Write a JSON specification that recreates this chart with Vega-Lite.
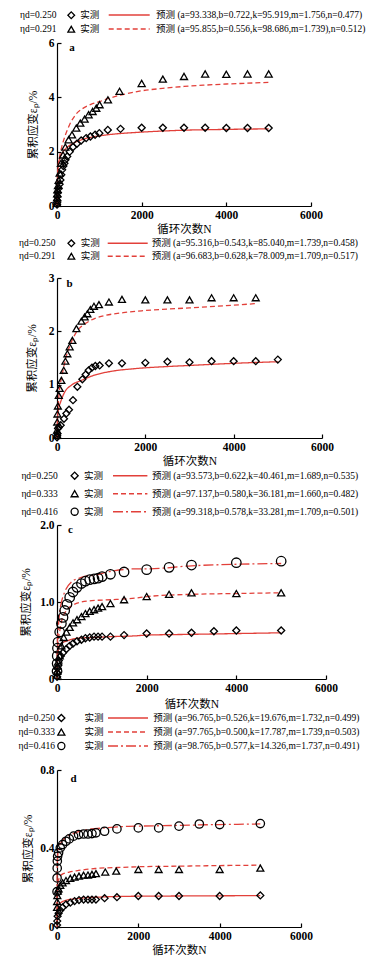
{
"$schema": "https://vega.github.io/schema/vega-lite/v6.json",
"padding": {"left": 18, "top": 10, "right": 2, "bottom": 2},
"spacing": 3,
"bounds": "full",
"resolve": {"scale": {"shape": "independent", "strokeDash": "independent"}, "legend": {"shape": "independent", "strokeDash": "independent"}},
"config": {
 "view": {"stroke": null},
 "font": "Liberation Serif",
 "axis": {"grid": false, "domainColor": "#000", "domainWidth": 1.2, "tickColor": "#000", "tickWidth": 1.2, "tickSize": -4, "labelPadding": 7, "labelFont": "Liberation Serif", "labelFontWeight": "bold", "labelFontSize": 11.5, "labelColor": "#000", "labelFlush": false, "labelOverlap": false, "titleFont": "Liberation Serif, Noto Sans CJK SC", "titleFontWeight": "normal", "titleFontSize": 11.5, "titleColor": "#000"},
 "axisX": {"titlePadding": 3, "format": "d"},
 "legend": {"labelFont": "Liberation Serif, Noto Sans CJK SC", "labelFontSize": 9.5, "labelColor": "#000", "labelLimit": 400, "titleFont": "Liberation Serif, Noto Sans CJK SC", "titleFontSize": 9.5, "titleFontWeight": "normal", "titleColor": "#000", "titleLimit": 400}
},
"datasets": {
 "aM": [
  {"eta":"0.250","N":1,"eps":0.05},{"eta":"0.250","N":3,"eps":0.12},{"eta":"0.250","N":5,"eps":0.2},{"eta":"0.250","N":10,"eps":0.35},{"eta":"0.250","N":20,"eps":0.5},{"eta":"0.250","N":40,"eps":0.65},{"eta":"0.250","N":60,"eps":0.8},{"eta":"0.250","N":80,"eps":0.96},{"eta":"0.250","N":100,"eps":1.15},{"eta":"0.250","N":120,"eps":1.33},{"eta":"0.250","N":150,"eps":1.47},{"eta":"0.250","N":175,"eps":1.57},{"eta":"0.250","N":200,"eps":1.7},{"eta":"0.250","N":240,"eps":1.82},{"eta":"0.250","N":300,"eps":2.0},{"eta":"0.250","N":380,"eps":2.17},{"eta":"0.250","N":470,"eps":2.29},{"eta":"0.250","N":570,"eps":2.41},{"eta":"0.250","N":690,"eps":2.5},{"eta":"0.250","N":790,"eps":2.56},{"eta":"0.250","N":900,"eps":2.62},{"eta":"0.250","N":1000,"eps":2.68},{"eta":"0.250","N":1200,"eps":2.8},{"eta":"0.250","N":1500,"eps":2.84},{"eta":"0.250","N":2000,"eps":2.88},{"eta":"0.250","N":2500,"eps":2.88},{"eta":"0.250","N":3000,"eps":2.88},{"eta":"0.250","N":3500,"eps":2.88},{"eta":"0.250","N":4000,"eps":2.87},{"eta":"0.250","N":4500,"eps":2.87},{"eta":"0.250","N":5000,"eps":2.87},
  {"eta":"0.291","N":1,"eps":0.1},{"eta":"0.291","N":3,"eps":0.3},{"eta":"0.291","N":5,"eps":0.45},{"eta":"0.291","N":10,"eps":0.6},{"eta":"0.291","N":24,"eps":0.75},{"eta":"0.291","N":40,"eps":0.95},{"eta":"0.291","N":63,"eps":1.21},{"eta":"0.291","N":94,"eps":1.57},{"eta":"0.291","N":142,"eps":1.88},{"eta":"0.291","N":197,"eps":2.17},{"eta":"0.291","N":275,"eps":2.44},{"eta":"0.291","N":354,"eps":2.62},{"eta":"0.291","N":456,"eps":2.87},{"eta":"0.291","N":550,"eps":3.05},{"eta":"0.291","N":652,"eps":3.2},{"eta":"0.291","N":747,"eps":3.36},{"eta":"0.291","N":841,"eps":3.48},{"eta":"0.291","N":928,"eps":3.6},{"eta":"0.291","N":1006,"eps":3.73},{"eta":"0.291","N":1203,"eps":3.91},{"eta":"0.291","N":1478,"eps":4.22},{"eta":"0.291","N":2000,"eps":4.51},{"eta":"0.291","N":2500,"eps":4.67},{"eta":"0.291","N":3000,"eps":4.77},{"eta":"0.291","N":3500,"eps":4.86},{"eta":"0.291","N":4000,"eps":4.85},{"eta":"0.291","N":4500,"eps":4.86},{"eta":"0.291","N":5000,"eps":4.86}
 ],
 "aP": [
  {"curve":"0.250","N":0,"eps":0},{"curve":"0.250","N":5,"eps":0.6},{"curve":"0.250","N":15,"eps":1.1},{"curve":"0.250","N":30,"eps":1.45},{"curve":"0.250","N":60,"eps":1.72},{"curve":"0.250","N":100,"eps":1.88},{"curve":"0.250","N":200,"eps":2.1},{"curve":"0.250","N":350,"eps":2.28},{"curve":"0.250","N":550,"eps":2.42},{"curve":"0.250","N":800,"eps":2.53},{"curve":"0.250","N":1000,"eps":2.58},{"curve":"0.250","N":1300,"eps":2.64},{"curve":"0.250","N":1600,"eps":2.68},{"curve":"0.250","N":2000,"eps":2.72},{"curve":"0.250","N":2500,"eps":2.76},{"curve":"0.250","N":3000,"eps":2.79},{"curve":"0.250","N":4000,"eps":2.82},{"curve":"0.250","N":5000,"eps":2.84},
  {"curve":"0.291","N":0,"eps":0},{"curve":"0.291","N":5,"eps":0.6},{"curve":"0.291","N":15,"eps":1.15},{"curve":"0.291","N":30,"eps":1.5},{"curve":"0.291","N":60,"eps":1.8},{"curve":"0.291","N":100,"eps":2.1},{"curve":"0.291","N":200,"eps":2.62},{"curve":"0.291","N":300,"eps":3.0},{"curve":"0.291","N":450,"eps":3.38},{"curve":"0.291","N":600,"eps":3.58},{"curve":"0.291","N":800,"eps":3.74},{"curve":"0.291","N":1000,"eps":3.84},{"curve":"0.291","N":1200,"eps":3.95},{"curve":"0.291","N":1500,"eps":4.08},{"curve":"0.291","N":2000,"eps":4.24},{"curve":"0.291","N":2500,"eps":4.33},{"curve":"0.291","N":3000,"eps":4.4},{"curve":"0.291","N":3500,"eps":4.45},{"curve":"0.291","N":4000,"eps":4.49},{"curve":"0.291","N":4500,"eps":4.52},{"curve":"0.291","N":5000,"eps":4.55}
 ],
 "bM": [
  {"eta":"0.250","N":1,"eps":0.01},{"eta":"0.250","N":5,"eps":0.04},{"eta":"0.250","N":10,"eps":0.08},{"eta":"0.250","N":23,"eps":0.18},{"eta":"0.250","N":40,"eps":0.2},{"eta":"0.250","N":84,"eps":0.24},{"eta":"0.250","N":158,"eps":0.36},{"eta":"0.250","N":212,"eps":0.46},{"eta":"0.250","N":272,"eps":0.53},{"eta":"0.250","N":362,"eps":0.71},{"eta":"0.250","N":461,"eps":0.96},{"eta":"0.250","N":574,"eps":1.1},{"eta":"0.250","N":649,"eps":1.19},{"eta":"0.250","N":717,"eps":1.27},{"eta":"0.250","N":792,"eps":1.32},{"eta":"0.250","N":868,"eps":1.35},{"eta":"0.250","N":966,"eps":1.36},{"eta":"0.250","N":1176,"eps":1.4},{"eta":"0.250","N":1471,"eps":1.4},{"eta":"0.250","N":2000,"eps":1.41},{"eta":"0.250","N":2500,"eps":1.43},{"eta":"0.250","N":3000,"eps":1.42},{"eta":"0.250","N":3500,"eps":1.44},{"eta":"0.250","N":4000,"eps":1.44},{"eta":"0.250","N":4500,"eps":1.44},{"eta":"0.250","N":5000,"eps":1.47},
  {"eta":"0.291","N":1,"eps":0.05},{"eta":"0.291","N":3,"eps":0.15},{"eta":"0.291","N":5,"eps":0.3},{"eta":"0.291","N":10,"eps":0.45},{"eta":"0.291","N":20,"eps":0.6},{"eta":"0.291","N":40,"eps":0.8},{"eta":"0.291","N":61,"eps":0.93},{"eta":"0.291","N":99,"eps":1.08},{"eta":"0.291","N":152,"eps":1.27},{"eta":"0.291","N":190,"eps":1.44},{"eta":"0.291","N":235,"eps":1.58},{"eta":"0.291","N":287,"eps":1.71},{"eta":"0.291","N":348,"eps":1.83},{"eta":"0.291","N":439,"eps":2.05},{"eta":"0.291","N":552,"eps":2.19},{"eta":"0.291","N":627,"eps":2.27},{"eta":"0.291","N":688,"eps":2.33},{"eta":"0.291","N":756,"eps":2.41},{"eta":"0.291","N":837,"eps":2.47},{"eta":"0.291","N":950,"eps":2.5},{"eta":"0.291","N":1176,"eps":2.55},{"eta":"0.291","N":1471,"eps":2.6},{"eta":"0.291","N":2000,"eps":2.59},{"eta":"0.291","N":2500,"eps":2.59},{"eta":"0.291","N":3000,"eps":2.59},{"eta":"0.291","N":3500,"eps":2.63},{"eta":"0.291","N":4000,"eps":2.63},{"eta":"0.291","N":4500,"eps":2.63}
 ],
 "bP": [
  {"curve":"0.250","N":0,"eps":0},{"curve":"0.250","N":5,"eps":0.25},{"curve":"0.250","N":10,"eps":0.36},{"curve":"0.250","N":30,"eps":0.52},{"curve":"0.250","N":84,"eps":0.68},{"curve":"0.250","N":174,"eps":0.86},{"curve":"0.250","N":325,"eps":0.99},{"curve":"0.250","N":552,"eps":1.08},{"curve":"0.250","N":853,"eps":1.18},{"curve":"0.250","N":1230,"eps":1.25},{"curve":"0.250","N":1758,"eps":1.3},{"curve":"0.250","N":2500,"eps":1.34},{"curve":"0.250","N":3000,"eps":1.36},{"curve":"0.250","N":4000,"eps":1.4},{"curve":"0.250","N":5000,"eps":1.43},
  {"curve":"0.291","N":0,"eps":0},{"curve":"0.291","N":10,"eps":0.35},{"curve":"0.291","N":30,"eps":0.65},{"curve":"0.291","N":60,"eps":0.93},{"curve":"0.291","N":100,"eps":1.12},{"curve":"0.291","N":150,"eps":1.32},{"curve":"0.291","N":200,"eps":1.5},{"curve":"0.291","N":300,"eps":1.75},{"curve":"0.291","N":400,"eps":1.93},{"curve":"0.291","N":500,"eps":2.05},{"curve":"0.291","N":650,"eps":2.15},{"curve":"0.291","N":850,"eps":2.24},{"curve":"0.291","N":1000,"eps":2.28},{"curve":"0.291","N":1500,"eps":2.35},{"curve":"0.291","N":2000,"eps":2.39},{"curve":"0.291","N":3000,"eps":2.44},{"curve":"0.291","N":4000,"eps":2.49},{"curve":"0.291","N":4500,"eps":2.52}
 ],
 "cM": [
  {"eta":"0.250","N":1,"eps":0.03},{"eta":"0.250","N":5,"eps":0.08},{"eta":"0.250","N":10,"eps":0.14},{"eta":"0.250","N":40,"eps":0.24},{"eta":"0.250","N":85,"eps":0.3},{"eta":"0.250","N":134,"eps":0.34},{"eta":"0.250","N":210,"eps":0.39},{"eta":"0.250","N":283,"eps":0.43},{"eta":"0.250","N":357,"eps":0.46},{"eta":"0.250","N":446,"eps":0.49},{"eta":"0.250","N":545,"eps":0.51},{"eta":"0.250","N":634,"eps":0.53},{"eta":"0.250","N":730,"eps":0.54},{"eta":"0.250","N":826,"eps":0.55},{"eta":"0.250","N":916,"eps":0.55},{"eta":"0.250","N":1005,"eps":0.55},{"eta":"0.250","N":1192,"eps":0.55},{"eta":"0.250","N":1496,"eps":0.57},{"eta":"0.250","N":2000,"eps":0.59},{"eta":"0.250","N":2500,"eps":0.59},{"eta":"0.250","N":3000,"eps":0.6},{"eta":"0.250","N":3500,"eps":0.62},{"eta":"0.250","N":4000,"eps":0.63},{"eta":"0.250","N":5000,"eps":0.63},
  {"eta":"0.333","N":1,"eps":0.05},{"eta":"0.333","N":5,"eps":0.1},{"eta":"0.333","N":10,"eps":0.17},{"eta":"0.333","N":22,"eps":0.22},{"eta":"0.333","N":60,"eps":0.3},{"eta":"0.333","N":98,"eps":0.43},{"eta":"0.333","N":150,"eps":0.54},{"eta":"0.333","N":210,"eps":0.61},{"eta":"0.333","N":283,"eps":0.67},{"eta":"0.333","N":357,"eps":0.73},{"eta":"0.333","N":446,"eps":0.77},{"eta":"0.333","N":545,"eps":0.81},{"eta":"0.333","N":634,"eps":0.85},{"eta":"0.333","N":730,"eps":0.88},{"eta":"0.333","N":826,"eps":0.9},{"eta":"0.333","N":916,"eps":0.92},{"eta":"0.333","N":1005,"eps":0.94},{"eta":"0.333","N":1192,"eps":0.98},{"eta":"0.333","N":1496,"eps":1.03},{"eta":"0.333","N":2000,"eps":1.07},{"eta":"0.333","N":2500,"eps":1.1},{"eta":"0.333","N":3000,"eps":1.12},{"eta":"0.333","N":4000,"eps":1.11},{"eta":"0.333","N":5000,"eps":1.12},
  {"eta":"0.416","N":1,"eps":0.1},{"eta":"0.416","N":3,"eps":0.2},{"eta":"0.416","N":5,"eps":0.3},{"eta":"0.416","N":10,"eps":0.4},{"eta":"0.416","N":22,"eps":0.48},{"eta":"0.416","N":60,"eps":0.61},{"eta":"0.416","N":98,"eps":0.72},{"eta":"0.416","N":134,"eps":0.8},{"eta":"0.416","N":172,"eps":0.89},{"eta":"0.416","N":223,"eps":0.97},{"eta":"0.416","N":283,"eps":1.06},{"eta":"0.416","N":357,"eps":1.13},{"eta":"0.416","N":446,"eps":1.19},{"eta":"0.416","N":545,"eps":1.24},{"eta":"0.416","N":634,"eps":1.27},{"eta":"0.416","N":730,"eps":1.29},{"eta":"0.416","N":826,"eps":1.3},{"eta":"0.416","N":916,"eps":1.31},{"eta":"0.416","N":1005,"eps":1.33},{"eta":"0.416","N":1192,"eps":1.36},{"eta":"0.416","N":1496,"eps":1.39},{"eta":"0.416","N":2000,"eps":1.42},{"eta":"0.416","N":2500,"eps":1.45},{"eta":"0.416","N":3000,"eps":1.48},{"eta":"0.416","N":4000,"eps":1.51},{"eta":"0.416","N":5000,"eps":1.53}
 ],
 "cP": [
  {"curve":"0.250","N":0,"eps":0},{"curve":"0.250","N":5,"eps":0.2},{"curve":"0.250","N":20,"eps":0.33},{"curve":"0.250","N":50,"eps":0.42},{"curve":"0.250","N":98,"eps":0.46},{"curve":"0.250","N":246,"eps":0.5},{"curve":"0.250","N":469,"eps":0.53},{"curve":"0.250","N":842,"eps":0.54},{"curve":"0.250","N":1214,"eps":0.55},{"curve":"0.250","N":1735,"eps":0.56},{"curve":"0.250","N":2000,"eps":0.57},{"curve":"0.250","N":3000,"eps":0.58},{"curve":"0.250","N":4000,"eps":0.59},{"curve":"0.250","N":5000,"eps":0.6},
  {"curve":"0.333","N":0,"eps":0},{"curve":"0.333","N":5,"eps":0.25},{"curve":"0.333","N":22,"eps":0.45},{"curve":"0.333","N":60,"eps":0.62},{"curve":"0.333","N":98,"eps":0.74},{"curve":"0.333","N":210,"eps":0.89},{"curve":"0.333","N":357,"eps":0.96},{"curve":"0.333","N":545,"eps":1.0},{"curve":"0.333","N":842,"eps":1.02},{"curve":"0.333","N":1214,"eps":1.03},{"curve":"0.333","N":1735,"eps":1.05},{"curve":"0.333","N":2000,"eps":1.07},{"curve":"0.333","N":3000,"eps":1.1},{"curve":"0.333","N":4000,"eps":1.11},{"curve":"0.333","N":5000,"eps":1.12},
  {"curve":"0.416","N":0,"eps":0},{"curve":"0.416","N":3,"eps":0.3},{"curve":"0.416","N":10,"eps":0.5},{"curve":"0.416","N":22,"eps":0.61},{"curve":"0.416","N":60,"eps":0.87},{"curve":"0.416","N":100,"eps":1.0},{"curve":"0.416","N":172,"eps":1.13},{"curve":"0.416","N":321,"eps":1.26},{"curve":"0.416","N":545,"eps":1.32},{"curve":"0.416","N":842,"eps":1.35},{"curve":"0.416","N":1214,"eps":1.4},{"curve":"0.416","N":1735,"eps":1.43},{"curve":"0.416","N":2000,"eps":1.43},{"curve":"0.416","N":3000,"eps":1.47},{"curve":"0.416","N":4000,"eps":1.49},{"curve":"0.416","N":5000,"eps":1.5}
 ],
 "dM": [
  {"eta":"0.250","N":1,"eps":0.01},{"eta":"0.250","N":5,"eps":0.03},{"eta":"0.250","N":15,"eps":0.055},{"eta":"0.250","N":40,"eps":0.07},{"eta":"0.250","N":81,"eps":0.085},{"eta":"0.250","N":138,"eps":0.1},{"eta":"0.250","N":221,"eps":0.115},{"eta":"0.250","N":327,"eps":0.124},{"eta":"0.250","N":432,"eps":0.132},{"eta":"0.250","N":541,"eps":0.137},{"eta":"0.250","N":654,"eps":0.14},{"eta":"0.250","N":762,"eps":0.14},{"eta":"0.250","N":860,"eps":0.14},{"eta":"0.250","N":958,"eps":0.14},{"eta":"0.250","N":1170,"eps":0.147},{"eta":"0.250","N":1474,"eps":0.152},{"eta":"0.250","N":2000,"eps":0.158},{"eta":"0.250","N":2500,"eps":0.158},{"eta":"0.250","N":3000,"eps":0.158},{"eta":"0.250","N":4000,"eps":0.158},{"eta":"0.250","N":5000,"eps":0.161},
  {"eta":"0.333","N":1,"eps":0.1},{"eta":"0.333","N":3,"eps":0.13},{"eta":"0.333","N":8,"eps":0.16},{"eta":"0.333","N":20,"eps":0.183},{"eta":"0.333","N":39,"eps":0.195},{"eta":"0.333","N":81,"eps":0.212},{"eta":"0.333","N":138,"eps":0.225},{"eta":"0.333","N":221,"eps":0.237},{"eta":"0.333","N":327,"eps":0.248},{"eta":"0.333","N":432,"eps":0.254},{"eta":"0.333","N":541,"eps":0.259},{"eta":"0.333","N":654,"eps":0.264},{"eta":"0.333","N":762,"eps":0.265},{"eta":"0.333","N":860,"eps":0.268},{"eta":"0.333","N":958,"eps":0.272},{"eta":"0.333","N":1187,"eps":0.28},{"eta":"0.333","N":1457,"eps":0.285},{"eta":"0.333","N":2000,"eps":0.293},{"eta":"0.333","N":2500,"eps":0.293},{"eta":"0.333","N":3000,"eps":0.293},{"eta":"0.333","N":4000,"eps":0.293},{"eta":"0.333","N":5000,"eps":0.3},
  {"eta":"0.416","N":1,"eps":0.18},{"eta":"0.416","N":2,"eps":0.25},{"eta":"0.416","N":5,"eps":0.3},{"eta":"0.416","N":8,"eps":0.336},{"eta":"0.416","N":15,"eps":0.36},{"eta":"0.416","N":39,"eps":0.378},{"eta":"0.416","N":81,"eps":0.403},{"eta":"0.416","N":138,"eps":0.42},{"eta":"0.416","N":221,"eps":0.437},{"eta":"0.416","N":302,"eps":0.449},{"eta":"0.416","N":408,"eps":0.463},{"eta":"0.416","N":531,"eps":0.471},{"eta":"0.416","N":654,"eps":0.474},{"eta":"0.416","N":762,"eps":0.474},{"eta":"0.416","N":860,"eps":0.476},{"eta":"0.416","N":958,"eps":0.48},{"eta":"0.416","N":1170,"eps":0.488},{"eta":"0.416","N":1474,"eps":0.5},{"eta":"0.416","N":2000,"eps":0.505},{"eta":"0.416","N":2500,"eps":0.505},{"eta":"0.416","N":3000,"eps":0.514},{"eta":"0.416","N":3500,"eps":0.525},{"eta":"0.416","N":4000,"eps":0.522},{"eta":"0.416","N":5000,"eps":0.527}
 ],
 "dP": [
  {"curve":"0.250","N":0,"eps":0},{"curve":"0.250","N":3,"eps":0.08},{"curve":"0.250","N":10,"eps":0.1},{"curve":"0.250","N":40,"eps":0.115},{"curve":"0.250","N":100,"eps":0.125},{"curve":"0.250","N":200,"eps":0.135},{"curve":"0.250","N":500,"eps":0.145},{"curve":"0.250","N":1000,"eps":0.152},{"curve":"0.250","N":2000,"eps":0.157},{"curve":"0.250","N":3000,"eps":0.158},{"curve":"0.250","N":5000,"eps":0.16},
  {"curve":"0.333","N":0,"eps":0.02},{"curve":"0.333","N":3,"eps":0.17},{"curve":"0.333","N":10,"eps":0.21},{"curve":"0.333","N":39,"eps":0.24},{"curve":"0.333","N":122,"eps":0.268},{"curve":"0.333","N":300,"eps":0.28},{"curve":"0.333","N":531,"eps":0.288},{"curve":"0.333","N":941,"eps":0.298},{"curve":"0.333","N":1760,"eps":0.305},{"curve":"0.333","N":2000,"eps":0.307},{"curve":"0.333","N":3000,"eps":0.31},{"curve":"0.333","N":4000,"eps":0.313},{"curve":"0.333","N":5000,"eps":0.315},
  {"curve":"0.416","N":0,"eps":0.05},{"curve":"0.416","N":3,"eps":0.28},{"curve":"0.416","N":10,"eps":0.34},{"curve":"0.416","N":39,"eps":0.4},{"curve":"0.416","N":100,"eps":0.43},{"curve":"0.416","N":204,"eps":0.454},{"curve":"0.416","N":450,"eps":0.48},{"curve":"0.416","N":777,"eps":0.497},{"curve":"0.416","N":1187,"eps":0.505},{"curve":"0.416","N":1760,"eps":0.513},{"curve":"0.416","N":2000,"eps":0.514},{"curve":"0.416","N":3000,"eps":0.518},{"curve":"0.416","N":4000,"eps":0.522},{"curve":"0.416","N":5000,"eps":0.525}
 ]
},
"vconcat": [
 {
  "width": 254, "height": 163,
  "layer": [
   {"data": {"name": "aP"},
    "mark": {"type": "line", "color": "#e2403a", "strokeWidth": 1.3, "interpolate": "monotone"},
    "encoding": {
     "x": {"field": "N", "type": "quantitative", "scale": {"domain": [0, 6000], "nice": false}, "axis": {"values": [0, 2000, 4000, 6000], "title": "循环次数N"}},
     "y": {"field": "eps", "type": "quantitative", "scale": {"domain": [0, 6], "nice": false}, "axis": {"values": [0, 1, 2, 3, 4, 5, 6], "title": "累积应变εₚ/%", "titlePadding": 10}},
     "strokeDash": {"field": "curve", "type": "nominal", "scale": {"range": [[1, 0], [5, 3]]},
      "legend": {"orient": "none", "legendX": 50.7, "legendY": -33, "direction": "vertical", "title": null, "symbolType": "stroke", "symbolSize": 1681, "symbolStrokeWidth": 1.5, "symbolStrokeColor": "#e2403a", "clipHeight": 10, "rowPadding": 4, "labelOffset": 5.3,
       "labelExpr": "datum.value == '0.250' ? '预测 (a=93.338,b=0.722,k=95.919,m=1.756,n=0.477)' : '预测 (a=95.855,b=0.556,k=98.686,m=1.739),n=0.512)'"}}
    }},
   {"data": {"name": "aM"},
    "mark": {"type": "point", "filled": false, "color": "#000", "strokeWidth": 1.3, "opacity": 1},
    "encoding": {
     "x": {"field": "N", "type": "quantitative"},
     "y": {"field": "eps", "type": "quantitative"},
     "size": {"value": 50},
     "shape": {"field": "eta", "type": "nominal", "scale": {"range": ["diamond", "triangle-up"]},
      "legend": {"orient": "none", "legendX": -37, "legendY": -32.75, "direction": "vertical", "title": ["ηd=0.250", "ηd=0.291"], "titleOrient": "left", "titleAnchor": "start", "titleBaseline": "top", "titleLineHeight": 14, "titlePadding": 9.5, "labelExpr": "'实测'", "symbolSize": 45, "symbolStrokeColor": "#000", "symbolStrokeWidth": 1.3, "symbolFillColor": "transparent", "clipHeight": 10, "rowPadding": 4, "labelOffset": 4.3}}
    }},
   {"data": {"values": [{"t": "a"}]},
    "mark": {"type": "text", "font": "Liberation Serif", "fontWeight": "bold", "fontSize": 11, "align": "center", "baseline": "middle"},
    "encoding": {"x": {"datum": 354, "type": "quantitative"}, "y": {"datum": 5.8, "type": "quantitative"}, "text": {"field": "t"}}}
  ]
 },
 {
  "width": 265, "height": 160,
  "layer": [
   {"data": {"name": "bP"},
    "mark": {"type": "line", "color": "#e2403a", "strokeWidth": 1.3, "interpolate": "monotone"},
    "encoding": {
     "x": {"field": "N", "type": "quantitative", "scale": {"domain": [0, 6000], "nice": false}, "axis": {"values": [0, 2000, 4000, 6000], "title": "循环次数N"}},
     "y": {"field": "eps", "type": "quantitative", "scale": {"domain": [0, 3], "nice": false}, "axis": {"values": [0, 1, 2, 3], "title": "累积应变εₚ/%", "titlePadding": 11}},
     "strokeDash": {"field": "curve", "type": "nominal", "scale": {"range": [[1, 0], [5, 3]]},
      "legend": {"orient": "none", "legendX": 49.7, "legendY": -39.7, "direction": "vertical", "title": null, "symbolType": "stroke", "symbolSize": 1600, "symbolStrokeWidth": 1.5, "symbolStrokeColor": "#e2403a", "clipHeight": 10, "rowPadding": 3, "labelOffset": 3,
       "labelExpr": "datum.value == '0.250' ? '预测 (a=95.316,b=0.543,k=85.040,m=1.739,n=0.458)' : '预测 (a=96.683,b=0.628,k=78.009,m=1.709,n=0.517)'"}}
    }},
   {"data": {"name": "bM"},
    "mark": {"type": "point", "filled": false, "color": "#000", "strokeWidth": 1.3, "opacity": 1},
    "encoding": {
     "x": {"field": "N", "type": "quantitative"},
     "y": {"field": "eps", "type": "quantitative"},
     "size": {"value": 48},
     "shape": {"field": "eta", "type": "nominal", "scale": {"range": ["diamond", "triangle-up"]},
      "legend": {"orient": "none", "legendX": -38, "legendY": -39.7, "direction": "vertical", "title": ["ηd=0.250", "ηd=0.291"], "titleOrient": "left", "titleAnchor": "start", "titleBaseline": "top", "titleLineHeight": 13, "titlePadding": 10.6, "labelExpr": "'实测'", "symbolSize": 45, "symbolStrokeColor": "#000", "symbolStrokeWidth": 1.3, "symbolFillColor": "transparent", "clipHeight": 10, "rowPadding": 3, "labelOffset": 4.6}}
    }},
   {"data": {"values": [{"t": "b"}]},
    "mark": {"type": "text", "font": "Liberation Serif", "fontWeight": "bold", "fontSize": 11, "align": "center", "baseline": "middle"},
    "encoding": {"x": {"datum": 287, "type": "quantitative"}, "y": {"datum": 2.88, "type": "quantitative"}, "text": {"field": "t"}}}
  ]
 },
 {
  "width": 269, "height": 154,
  "layer": [
   {"data": {"name": "cP"},
    "mark": {"type": "line", "color": "#e2403a", "strokeWidth": 1.3, "interpolate": "monotone"},
    "encoding": {
     "x": {"field": "N", "type": "quantitative", "scale": {"domain": [0, 6000], "nice": false}, "axis": {"values": [0, 2000, 4000, 6000], "title": "循环次数N", "titlePadding": 5}},
     "y": {"field": "eps", "type": "quantitative", "scale": {"domain": [0, 2], "nice": false}, "axis": {"values": [0, 0.5, 1, 1.5, 2], "labelExpr": "datum.value == 0 ? '0' : format(datum.value, '.1f')", "title": "累积应变εₚ/%", "titlePadding": 8}},
     "strokeDash": {"field": "curve", "type": "nominal", "scale": {"range": [[1, 0], [5, 3], [10, 3, 2, 3]]},
      "legend": {"orient": "none", "legendX": 55.2, "legendY": -54.3, "direction": "vertical", "title": null, "symbolType": "stroke", "symbolSize": 1183, "symbolStrokeWidth": 1.5, "symbolStrokeColor": "#e2403a", "clipHeight": 10, "rowPadding": 8, "labelOffset": 3.7,
       "labelExpr": "datum.value == '0.250' ? '预测 (a=93.573,b=0.622,k=40.461,m=1.689,n=0.535)' : datum.value == '0.333' ? '预测 (a=97.137,b=0.580,k=36.181,m=1.660,n=0.482)' : '预测 (a=99.318,b=0.578,k=33.281,m=1.709,n=0.501)'"}}
    }},
   {"data": {"name": "cM"},
    "transform": [{"filter": "datum.eta != '0.416'"}],
    "mark": {"type": "point", "filled": false, "color": "#000", "strokeWidth": 1.3, "opacity": 1},
    "encoding": {
     "x": {"field": "N", "type": "quantitative"},
     "y": {"field": "eps", "type": "quantitative"},
     "size": {"value": 50},
     "shape": {"field": "eta", "type": "nominal", "scale": {"range": ["diamond", "triangle-up", "circle"]},
      "legend": {"orient": "none", "legendX": -35.6, "legendY": -54.3, "direction": "vertical", "title": ["ηd=0.250", "ηd=0.333", "ηd=0.416"], "titleOrient": "left", "titleAnchor": "start", "titleBaseline": "top", "titleLineHeight": 18, "titlePadding": 11.5, "labelExpr": "'实测'", "symbolSize": 50, "symbolStrokeColor": "#000", "symbolStrokeWidth": 1.3, "symbolFillColor": "transparent", "clipHeight": 10, "rowPadding": 8, "labelOffset": 4.6}}
    }},
   {"data": {"name": "cM"},
    "transform": [{"filter": "datum.eta == '0.416'"}],
    "mark": {"type": "point", "filled": false, "color": "#000", "strokeWidth": 1.3, "opacity": 1},
    "encoding": {
     "x": {"field": "N", "type": "quantitative"},
     "y": {"field": "eps", "type": "quantitative"},
     "size": {"value": 90},
     "shape": {"field": "eta", "type": "nominal"}
    }},
   {"data": {"values": [{"t": "c"}]},
    "mark": {"type": "text", "font": "Liberation Serif", "fontWeight": "bold", "fontSize": 11, "align": "center", "baseline": "middle"},
    "encoding": {"x": {"datum": 299, "type": "quantitative"}, "y": {"datum": 1.93, "type": "quantitative"}, "text": {"field": "t"}}}
  ]
 },
 {
  "width": 244, "height": 157,
  "layer": [
   {"data": {"name": "dP"},
    "mark": {"type": "line", "color": "#e2403a", "strokeWidth": 1.3, "interpolate": "monotone"},
    "encoding": {
     "x": {"field": "N", "type": "quantitative", "scale": {"domain": [0, 6000], "nice": false}, "axis": {"values": [0, 2000, 4000, 6000], "title": "循环次数N"}},
     "y": {"field": "eps", "type": "quantitative", "scale": {"domain": [0, 0.8], "nice": false}, "axis": {"values": [0, 0.2, 0.4, 0.6, 0.8], "labelExpr": "datum.value == 0 ? '0' : format(datum.value, '.1f')", "title": "累积应变εₚ/%", "titlePadding": 6}},
     "strokeDash": {"field": "curve", "type": "nominal", "scale": {"range": [[1, 0], [5, 3], [10, 3, 2, 3]]},
      "legend": {"orient": "none", "legendX": 50, "legendY": -57, "direction": "vertical", "title": null, "symbolType": "stroke", "symbolSize": 1600, "symbolStrokeWidth": 1.5, "symbolStrokeColor": "#e2403a", "clipHeight": 10, "rowPadding": 4, "labelOffset": 4.3,
       "labelExpr": "datum.value == '0.250' ? '预测 (a=96.765,b=0.526,k=19.676,m=1.732,n=0.499)' : datum.value == '0.333' ? '预测 (a=97.765,b=0.500,k=17.787,m=1.739,n=0.503)' : '预测 (a=98.765,b=0.577,k=14.326,m=1.737,n=0.491)'"}}
    }},
   {"data": {"name": "dM"},
    "transform": [{"filter": "datum.eta != '0.416'"}],
    "mark": {"type": "point", "filled": false, "color": "#000", "strokeWidth": 1.3, "opacity": 1},
    "encoding": {
     "x": {"field": "N", "type": "quantitative"},
     "y": {"field": "eps", "type": "quantitative"},
     "size": {"value": 48},
     "shape": {"field": "eta", "type": "nominal", "scale": {"range": ["diamond", "triangle-up", "circle"]},
      "legend": {"orient": "none", "legendX": -38.4, "legendY": -57, "direction": "vertical", "title": ["ηd=0.250", "ηd=0.333", "ηd=0.416"], "titleOrient": "left", "titleAnchor": "start", "titleBaseline": "top", "titleLineHeight": 14, "titlePadding": 1, "labelExpr": "'实测'", "symbolSize": 50, "symbolStrokeColor": "#000", "symbolStrokeWidth": 1.3, "symbolFillColor": "transparent", "clipHeight": 10, "rowPadding": 4, "labelOffset": 18.5}}
    }},
   {"data": {"name": "dM"},
    "transform": [{"filter": "datum.eta == '0.416'"}],
    "mark": {"type": "point", "filled": false, "color": "#000", "strokeWidth": 1.3, "opacity": 1},
    "encoding": {
     "x": {"field": "N", "type": "quantitative"},
     "y": {"field": "eps", "type": "quantitative"},
     "size": {"value": 70},
     "shape": {"field": "eta", "type": "nominal"}
    }},
   {"data": {"values": [{"t": "d"}]},
    "mark": {"type": "text", "font": "Liberation Serif", "fontWeight": "bold", "fontSize": 11, "align": "center", "baseline": "middle"},
    "encoding": {"x": {"datum": 408, "type": "quantitative"}, "y": {"datum": 0.754, "type": "quantitative"}, "text": {"field": "t"}}}
  ]
 }
]
}
